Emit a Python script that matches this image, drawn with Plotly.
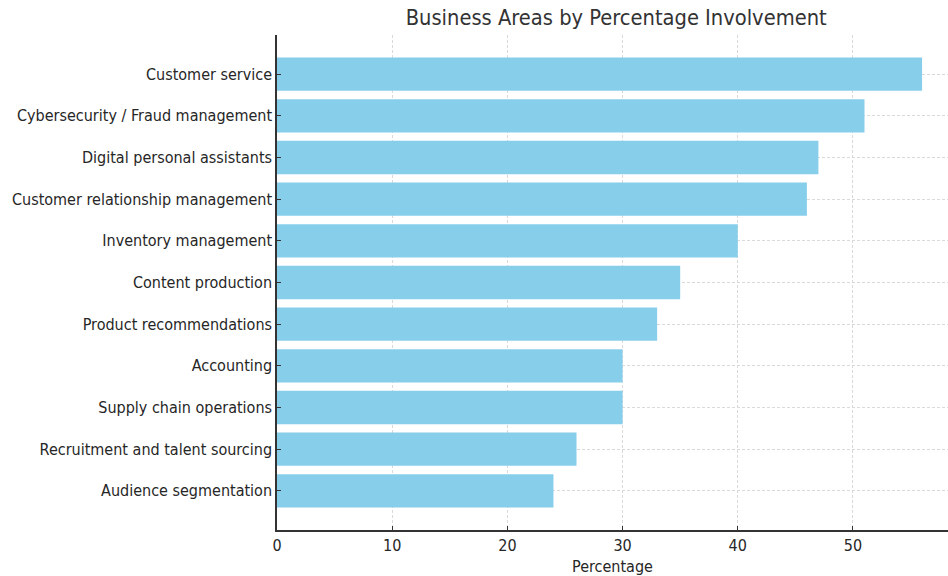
import plotly.graph_objects as go

categories = [
    "Customer service",
    "Cybersecurity / Fraud management",
    "Digital personal assistants",
    "Customer relationship management",
    "Inventory management",
    "Content production",
    "Product recommendations",
    "Accounting",
    "Supply chain operations",
    "Recruitment and talent sourcing",
    "Audience segmentation",
]
percentages = [56, 51, 47, 46, 40, 35, 33, 30, 30, 26, 24]
x_ticks = [0, 10, 20, 30, 40, 50]

FONT = "DejaVu Sans Condensed, DejaVu Sans, sans-serif"

fig = go.Figure(
    go.Bar(
        x=percentages,
        y=categories,
        orientation="h",
        width=0.8,
        marker=dict(color="#87CEEB", line=dict(width=0)),
    )
)

fig.update_layout(
    width=948,
    height=576,
    margin=dict(l=277, r=0, t=35, b=46),
    plot_bgcolor="white",
    paper_bgcolor="white",
    showlegend=False,
    font=dict(family=FONT, size=16, color="#262626"),
    title=dict(
        text="Business Areas by Percentage Involvement",
        x=0.65,
        xanchor="center",
        y=0.97,
        yanchor="middle",
        font=dict(family=FONT, size=21.7, color="#333333"),
    ),
)

grid_style = dict(
    showgrid=True,
    gridcolor="#d9d9d9",
    griddash="3px,2px",
    gridwidth=1,
    zeroline=False,
)

fig.update_xaxes(
    range=[0, 58.25],
    tickvals=x_ticks,
    ticks="inside",
    ticklen=4,
    tickcolor="#333333",
    showline=True,
    linecolor="#333333",
    linewidth=1.5,
    tickfont=dict(family=FONT, size=16, color="#262626"),
    title=dict(text="Percentage", standoff=7, font=dict(family=FONT, size=16, color="#262626")),
    **grid_style,
)

fig.update_yaxes(
    categoryorder="array",
    categoryarray=categories[::-1],
    range=[-0.94, 10.94],
    ticks="inside",
    ticklen=4,
    tickcolor="#333333",
    showline=True,
    linecolor="#333333",
    linewidth=1.5,
    ticklabelstandoff=0,
    tickfont=dict(family=FONT, size=16, color="#262626"),
    **grid_style,
)

fig.write_html("out.html")
